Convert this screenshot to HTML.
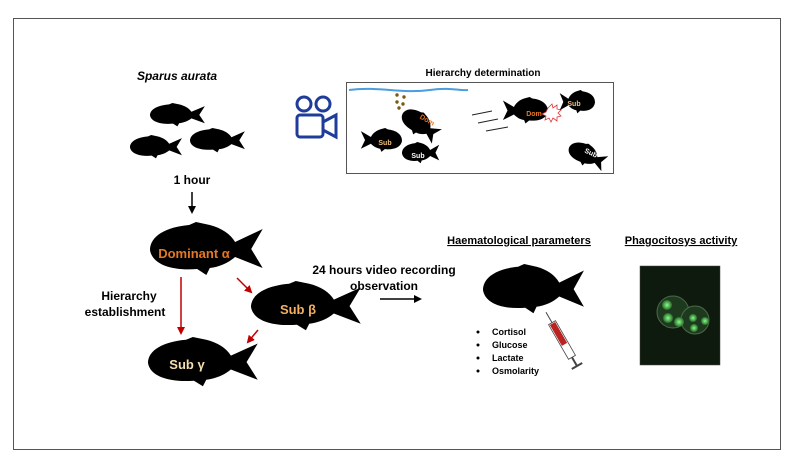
<!DOCTYPE html>
<html><head><meta charset="utf-8"><style>
body{margin:0;background:#fff}
svg{display:block;font-family:"Liberation Sans",sans-serif;font-weight:bold}
</style></head><body>
<svg width="793" height="469" viewBox="0 0 793 469" xmlns="http://www.w3.org/2000/svg">
<defs>
<path id="f" d="M0,28 C0,14 14,5 34,3 L40,0 L52,3 C62,6 70,12 74,20 L98,7 L88,27 L98,46 L74,35 C68,41 60,45 52,46 L49,53 L41,47 C20,49 2,43 0,28 Z"/>
<radialGradient id="g" cx="0.5" cy="0.5" r="0.5"><stop offset="0" stop-color="#8f8"/><stop offset="1" stop-color="#2a6a2a"/></radialGradient>
<marker id="ra" markerWidth="8" markerHeight="8" refX="6" refY="4" orient="auto" markerUnits="userSpaceOnUse"><path d="M0,0 L8,4 L0,8 Z" fill="#c00000"/></marker>
<marker id="ka" markerWidth="8" markerHeight="8" refX="6" refY="4" orient="auto" markerUnits="userSpaceOnUse"><path d="M0,0 L8,4 L0,8 Z" fill="#000"/></marker>
</defs>
<rect x="13.5" y="18.5" width="767" height="431" fill="#fff" stroke="#555" stroke-width="1"/>

<text x="177" y="80" font-size="12" font-style="italic" text-anchor="middle">Sparus aurata</text>
<use href="#f" transform="translate(150,103) scale(0.56,0.44)"/>
<use href="#f" transform="translate(130,135) scale(0.53,0.44)"/>
<use href="#f" transform="translate(190,128) scale(0.56,0.46)"/>
<text x="192" y="184" font-size="12" text-anchor="middle">1 hour</text>
<line x1="192" y1="192" x2="192" y2="212" stroke="#000" stroke-width="1.5" marker-end="url(#ka)"/>

<g fill="none" stroke="#1f3c9a" stroke-width="3">
<circle cx="304" cy="104" r="7"/><circle cx="323" cy="104" r="7"/>
<rect x="297" y="115" width="26" height="22" rx="3"/>
<path d="M323,122 L336,115 L336,137 L323,130"/>
</g>

<text x="483" y="76" font-size="10" text-anchor="middle">Hierarchy determination</text>
<rect x="346.5" y="82.5" width="267" height="91" fill="#fff" stroke="#555"/>
<path d="M349,90 C380,86 400,94 430,90 C450,87 460,91 468,90" stroke="#4a9de0" stroke-width="2" fill="none"/>
<g fill="#7a5a10"><circle cx="397" cy="95" r="1.7"/><circle cx="404" cy="97" r="1.7"/><circle cx="397" cy="102" r="1.7"/><circle cx="403" cy="104" r="1.7"/><circle cx="399" cy="108" r="1.7"/></g>
<use href="#f" transform="translate(410,103) rotate(35) scale(0.42,0.45)"/>
<text x="426" y="122" font-size="7" fill="#e87722" transform="rotate(30 426 122)" text-anchor="middle">Dom</text>
<use href="#f" transform="translate(360,128) scale(0.42,0.45) scale(-1,1) translate(-100,0)"/>
<text x="385" y="145" font-size="7" fill="#f5c07a" text-anchor="middle">Sub</text>
<use href="#f" transform="translate(402,142) scale(0.38,0.4)"/>
<text x="418" y="158" font-size="7" fill="#fff" text-anchor="middle">Sub</text>
<g stroke="#222" stroke-width="1"><line x1="472" y1="115" x2="492" y2="111"/><line x1="478" y1="123" x2="498" y2="119"/><line x1="486" y1="131" x2="508" y2="127"/></g>
<use href="#f" transform="translate(502,97) scale(0.46,0.5) scale(-1,1) translate(-100,0)"/>
<text x="534" y="116" font-size="7" fill="#e87722" text-anchor="middle">Dom</text>
<path d="M548,108 l4,-4 l1,4 l4,-3 l0,4 l4,1 l-3,3 l3,3 l-4,1 l0,4 l-4,-3 l-2,4 l-2,-4 l-4,2 l1,-4 l-4,-2 l4,-2 z" fill="#fff" stroke="#e03030" stroke-width="0.8"/>
<use href="#f" transform="translate(559,90) scale(0.36,0.44) scale(-1,1) translate(-100,0)"/>
<text x="574" y="106" font-size="7" fill="#f5c07a" text-anchor="middle">Sub</text>
<use href="#f" transform="translate(574,137) rotate(25) scale(0.4,0.42)"/>
<text x="590" y="155" font-size="7" fill="#fff" transform="rotate(25 590 155)" text-anchor="middle">Sub</text>

<use href="#f" transform="translate(150,222) scale(1.15,1.0)"/>
<text x="194" y="258" font-size="13" fill="#e87722" text-anchor="middle">Dominant α</text>
<use href="#f" transform="translate(251,281) scale(1.12,0.93)"/>
<text x="298" y="314" font-size="13" fill="#f5b060" text-anchor="middle">Sub β</text>
<use href="#f" transform="translate(148,337) scale(1.12,0.93)"/>
<text x="187" y="369" font-size="13" fill="#f5dfb0" text-anchor="middle">Sub γ</text>
<g stroke="#c00000" stroke-width="1.5">
<line x1="181" y1="277" x2="181" y2="333" marker-end="url(#ra)"/>
<line x1="237" y1="278" x2="251" y2="292" marker-end="url(#ra)"/>
<line x1="258" y1="330" x2="248" y2="342" marker-end="url(#ra)"/>
</g>
<text x="129" y="300" font-size="12" text-anchor="middle">Hierarchy</text>
<text x="125" y="316" font-size="12" text-anchor="middle">establishment</text>

<text x="384" y="274" font-size="12" text-anchor="middle">24 hours video recording</text>
<text x="384" y="290" font-size="12" text-anchor="middle">observation</text>
<line x1="380" y1="299" x2="420" y2="299" stroke="#000" stroke-width="1.5" marker-end="url(#ka)"/>

<text x="519" y="244" font-size="11" text-anchor="middle" text-decoration="underline">Haematological parameters</text>
<text x="681" y="244" font-size="11" text-anchor="middle" text-decoration="underline">Phagocitosys activity</text>
<use href="#f" transform="translate(483,264) scale(1.03,0.93)"/>
<g transform="rotate(60 562 340)">
<rect x="542" y="336" width="40" height="8" fill="#fff" stroke="#444" stroke-width="0.8"/>
<rect x="543" y="337" width="24" height="6" fill="#b22"/>
<line x1="530" y1="340" x2="542" y2="340" stroke="#444"/>
<line x1="582" y1="340" x2="592" y2="340" stroke="#444" stroke-width="2"/>
<line x1="592" y1="334" x2="592" y2="346" stroke="#444" stroke-width="2"/>
</g>
<g font-size="9">
<circle cx="478" cy="332" r="1.5"/><text x="492" y="335">Cortisol</text>
<circle cx="478" cy="345" r="1.5"/><text x="492" y="348">Glucose</text>
<circle cx="478" cy="358" r="1.5"/><text x="492" y="361">Lactate</text>
<circle cx="478" cy="371" r="1.5"/><text x="492" y="374">Osmolarity</text>
</g>
<rect x="640" y="266" width="80" height="99" fill="#0e1a0e" stroke="#444" stroke-width="0.5"/>
<circle cx="673" cy="312" r="16" fill="#1e3a1e" stroke="#4a6a4a"/>
<circle cx="695" cy="320" r="14" fill="#1e3a1e" stroke="#4a6a4a"/>
<g fill="url(#g)"><circle cx="667" cy="305" r="5"/><circle cx="668" cy="318" r="5"/><circle cx="679" cy="322" r="5"/><circle cx="693" cy="318" r="4"/><circle cx="705" cy="321" r="4"/><circle cx="694" cy="328" r="4"/></g>
</svg>
</body></html>
